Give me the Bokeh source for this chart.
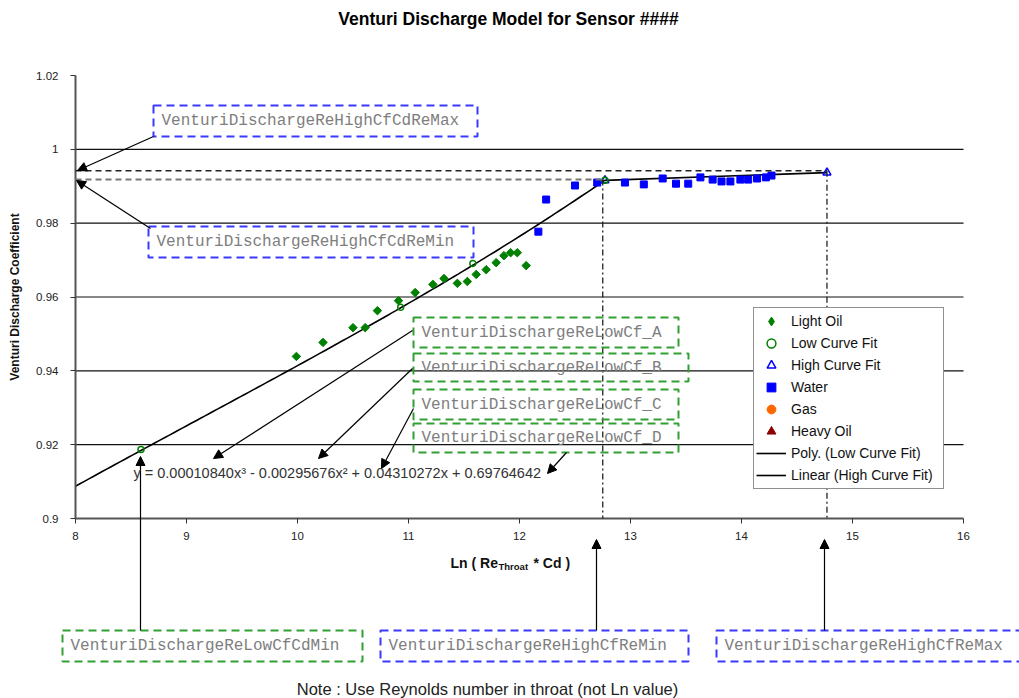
import numpy as np
from bokeh.plotting import figure
from bokeh.models import (Range1d, FixedTicker, PrintfTickFormatter, Legend, LegendItem,
                          Label, Arrow, NormalHead, BoxAnnotation)
from bokeh.embed import file_html
from bokeh.resources import INLINE

# ---------------------------------------------------------------- data
light_oil_x = [9.99, 10.23, 10.50, 10.61, 10.72, 10.91, 11.06, 11.22, 11.32, 11.44,
               11.53, 11.61, 11.70, 11.79, 11.86, 11.92, 11.98, 12.06]
light_oil_y = [0.9439, 0.9477, 0.9517, 0.9517, 0.9563, 0.9590, 0.9612, 0.9634, 0.9650, 0.9637,
               0.9642, 0.9661, 0.9674, 0.9693, 0.9712, 0.9720, 0.9720, 0.9685]

water_x = [12.17, 12.24, 12.50, 12.70, 12.95, 13.12, 13.29, 13.41, 13.52, 13.63,
           13.74, 13.82, 13.90, 13.99, 14.06, 14.14, 14.22, 14.27]
water_y = [0.9777, 0.9864, 0.9902, 0.9910, 0.9910, 0.9905, 0.9921, 0.9907, 0.9907, 0.9924,
           0.9918, 0.9913, 0.9913, 0.9918, 0.9918, 0.9921, 0.9924, 0.9929]

low_fit_x = [8.59, 10.93, 11.58, 12.77]
low_fit_y = [0.9187, 0.9572, 0.9691, 0.9916]

high_fit_x = [12.77, 14.77]
high_fit_y = [0.9916, 0.9937]

# no gas / heavy-oil runs for this sensor (kept so they appear in the key)
gas_x, gas_y = [np.nan], [np.nan]
heavy_oil_x, heavy_oil_y = [np.nan], [np.nan]

# cubic fit of the low-Re curve (highest power first)
poly_coef = [0.00010840, -0.00295676, 0.04310272, 0.69764642]

x_ticks = [8, 9, 10, 11, 12, 13, 14, 15, 16]
y_ticks = [0.90, 0.92, 0.94, 0.96, 0.98, 1.00, 1.02]
y_grid = [0.92, 0.94, 0.96, 0.98, 1.00]

# limit parameters of the discharge model
re_high_min = 12.75
re_high_max = 14.77
cd_high_min = 0.9918
cd_high_max = 0.9942

# ---------------------------------------------------------------- layout
# The frame fills the whole canvas; the axes are pinned at the lower-left
# corner of the value window, leaving room around it for the parameter tags.
W, H = 1019, 698
AX_L, AX_R, AX_T, AX_B = 75, 963, 75, 518          # pixel extent of the value window
X0, X1, Y0, Y1 = 8, 16, 0.90, 1.02                 # value window
kx = (X1 - X0) / (AX_R - AX_L)
ky = (Y1 - Y0) / (AX_B - AX_T)
x_range = Range1d(X0 - AX_L * kx, X0 + (W - AX_L) * kx)
y_range = Range1d(Y0 - (H - AX_B) * ky, Y0 + AX_B * ky)

def scr(px, py):
    """Canvas pixel (top-left origin) -> screen units (frame bottom-left origin)."""
    return px, H - py

p = figure(width=W, height=H, x_range=x_range, y_range=y_range,
           output_backend="svg", toolbar_location=None,
           min_border_left=0, min_border_right=0, min_border_top=0, min_border_bottom=0)
p.outline_line_color = None
p.background_fill_color = "white"
p.border_fill_color = "white"
p.title.visible = False

SANS = "Liberation Sans"
MONO = "Liberation Mono"

for ax in (p.xaxis[0], p.yaxis[0]):
    ax.axis_line_color = "#555555"
    ax.axis_line_width = 2
    ax.major_tick_line_color = "#333333"
    ax.major_tick_out = 5
    ax.major_tick_in = 0
    ax.minor_tick_line_color = None
    ax.major_label_text_font = SANS
    ax.major_label_text_font_size = "11.5px"
    ax.major_label_text_color = "#222222"

p.xaxis.fixed_location = Y0
p.yaxis.fixed_location = X0
p.xaxis.bounds = (X0, X1)
p.yaxis.bounds = (Y0, Y1)
p.xaxis.ticker = FixedTicker(ticks=x_ticks)
p.yaxis.ticker = FixedTicker(ticks=y_ticks)
p.yaxis.formatter = PrintfTickFormatter(format="%g")
p.xaxis.major_label_standoff = 8
p.yaxis.major_label_standoff = 12
p.yaxis.axis_label = "Venturi Discharge Coefficient"
p.yaxis.axis_label_text_font = SANS
p.yaxis.axis_label_text_font_style = "bold"
p.yaxis.axis_label_text_font_size = "12px"
p.yaxis.axis_label_text_color = "#111111"
p.yaxis.axis_label_standoff = 11

p.xgrid.visible = False
p.ygrid.visible = False
# horizontal grid lines across the value window only
p.segment(x0=[X0] * len(y_grid), y0=y_grid, x1=[X1] * len(y_grid), y1=y_grid,
          line_color="#111111", line_width=1.2)

# ---------------------------------------------------------------- fits
poly_x = np.linspace(X0, high_fit_x[0], 120)
poly_y = np.polyval(poly_coef, poly_x)
poly_r = p.line(poly_x, poly_y, line_color="black", line_width=1.6)
lin_r = p.line(high_fit_x, high_fit_y, line_color="black", line_width=1.6)

# ---------------------------------------------------------------- points
high_r = p.scatter(high_fit_x, high_fit_y, marker="triangle", size=8,
                   fill_color=None, line_color="#0000ff", line_width=1.5)
water_r = p.scatter(water_x, water_y, marker="square", size=7,
                    fill_color="#0000ff", line_color="#0000ff")
p.scatter(light_oil_x, light_oil_y, marker="square", angle=np.pi / 4, size=6,
          fill_color="#008000", line_color="#008000")
light_key = p.scatter([np.nan], [np.nan], marker="diamond", size=11,
                      fill_color="#008000", line_color="#008000")
low_r = p.scatter(low_fit_x, low_fit_y, marker="circle", size=6,
                  fill_color=None, line_color="#008000", line_width=1.5)
gas_r = p.scatter(gas_x, gas_y, marker="circle", size=7,
                  fill_color="#ff6600", line_color="#ff6600")
heavy_r = p.scatter(heavy_oil_x, heavy_oil_y, marker="triangle", size=8,
                    fill_color="#8b0000", line_color="#8b0000")

legend = Legend(items=[
    LegendItem(label="Light Oil", renderers=[light_key]),
    LegendItem(label="Low Curve Fit", renderers=[low_r]),
    LegendItem(label="High Curve Fit", renderers=[high_r]),
    LegendItem(label="Water", renderers=[water_r]),
    LegendItem(label="Gas", renderers=[gas_r]),
    LegendItem(label="Heavy Oil", renderers=[heavy_r]),
    LegendItem(label="Poly. (Low Curve Fit)", renderers=[poly_r]),
    LegendItem(label="Linear (High Curve Fit)", renderers=[lin_r]),
], location=scr(753, 489))
legend.label_text_font = SANS
legend.label_text_font_size = "14px"
legend.label_text_color = "#111111"
legend.label_height = 22
legend.glyph_height = 22
legend.glyph_width = 30
legend.label_width = 150
legend.label_standoff = 5
legend.padding = 2
legend.spacing = 0
legend.margin = 0
legend.border_line_color = "#222222"
legend.border_line_width = 1.5
legend.background_fill_color = "white"
legend.background_fill_alpha = 1.0
p.add_layout(legend)

# ---------------------------------------------------------------- limit guides
def guide(x0, y0, x1, y1, color, dash, width=1.3):
    p.add_layout(Arrow(end=None, x_start=x0, y_start=y0, x_end=x1, y_end=y1,
                       line_color=color, line_dash=dash, line_width=width))

guide(X0, cd_high_max, re_high_max, cd_high_max, "#222222", "6 4")
guide(re_high_max, cd_high_max, re_high_max, Y0, "#222222", "6 3 2 3")
guide(X0, cd_high_min, re_high_min, cd_high_min, "#777777", "6 4", 2)
guide(re_high_min, cd_high_min, re_high_min, Y0, "#222222", "6 3 2 3")

# ---------------------------------------------------------------- parameter tags
BLUE = "#3a3aff"
GREEN = "#33a033"

def text(txt, px, py, font=SANS, size="12px", style="normal", color="#222222",
         align="left"):
    sx, sy = scr(px, py)
    p.add_layout(Label(x=sx, y=sy, x_units="screen", y_units="screen", text=txt,
                       text_font=font, text_font_size=size, text_font_style=style,
                       text_color=color, text_align=align, text_baseline="middle"))

def tag(txt, box, color):
    l, t, r, b = box
    x0, y0 = scr(l, b)
    x1, y1 = scr(r, t)
    p.add_layout(BoxAnnotation(left=x0, right=x1, bottom=y0, top=y1,
                               left_units="screen", right_units="screen",
                               bottom_units="screen", top_units="screen",
                               fill_color=None, line_color=color, line_alpha=1.0,
                               line_dash="8 5", line_width=2))
    text(txt, l + 8, (t + b) / 2, font=MONO, size="16px", color="#7e7e7e")

def pointer(p0, p1):
    xs, ys = scr(*p0)
    xe, ye = scr(*p1)
    p.add_layout(Arrow(end=NormalHead(size=9, fill_color="black", line_color="black"),
                       x_start=xs, y_start=ys, x_end=xe, y_end=ye,
                       start_units="screen", end_units="screen",
                       line_color="black", line_width=1.2))

tag("VenturiDischargeReHighCfCdReMax", (153, 105, 477, 136), BLUE)
tag("VenturiDischargeReHighCfCdReMin", (148, 226, 473, 257), BLUE)
tag("VenturiDischargeReLowCf_A", (413, 317, 678, 347), GREEN)
tag("VenturiDischargeReLowCf_B", (413, 353, 688, 381), GREEN)
tag("VenturiDischargeReLowCf_C", (413, 389, 678, 419), GREEN)
tag("VenturiDischargeReLowCf_D", (413, 423, 678, 452), GREEN)
tag("VenturiDischargeReLowCfCdMin", (62, 630, 362, 661), GREEN)
tag("VenturiDischargeReHighCfReMin", (380, 630, 688, 661), BLUE)
tag("VenturiDischargeReHighCfReMax", (716, 630, 1030, 661), BLUE)

pointer((153, 136), (77, 170))
pointer((150, 228), (76, 180))
pointer((412, 330), (213, 458))
pointer((412, 368), (318, 458))
pointer((413, 408), (381, 468))
pointer((566, 452), (547, 473))
pointer((140, 630), (140, 456))
pointer((596, 630), (596, 539))
pointer((824, 630), (824, 539))

# ---------------------------------------------------------------- texts
a, b, c, d = poly_coef
eq = f"y = {a:.8f}x\u00b3 - {abs(b):.8f}x\u00b2 + {c:.8f}x + {d:.8f}"
text(eq, 133, 472, size="14.5px", color="#333333")

text("Venturi Discharge Model for Sensor ####", 508, 18, size="17.5px", style="bold",
     color="black", align="center")

text("Ln ( Re", 450, 562, size="14px", style="bold", color="#111111")
text("Throat", 498, 566, size="9.5px", style="bold", color="#111111")
text("* Cd )", 533, 562, size="14px", style="bold", color="#111111")

text("Note : Use Reynolds number in throat (not Ln value)", 487, 688, size="16.5px",
     color="#222222", align="center")

open("out.html", "w").write(file_html(p, INLINE))
